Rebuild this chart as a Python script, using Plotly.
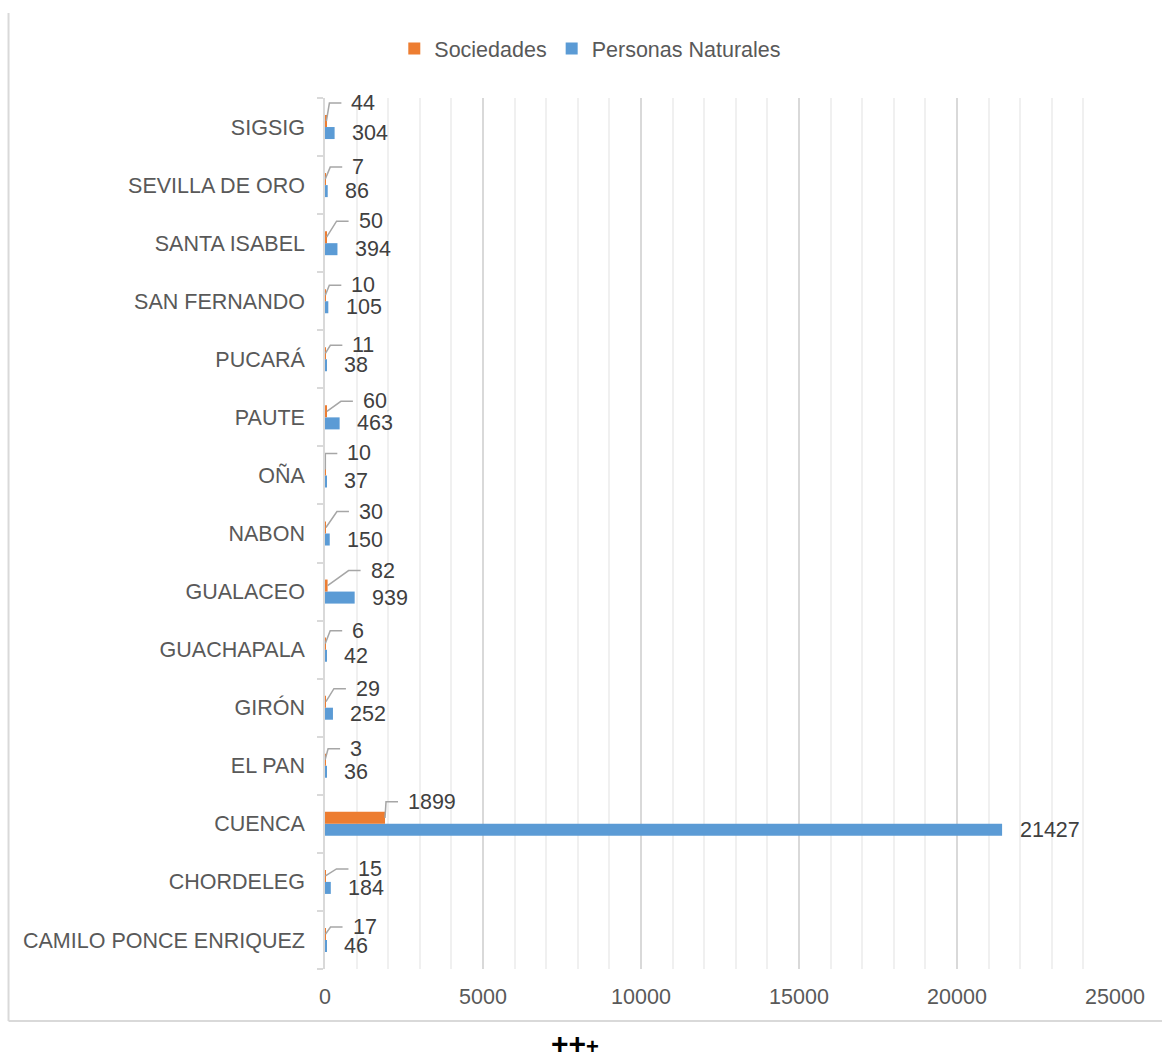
import plotly.graph_objects as go

# Cantones (bottom to top on the axis)
cantones = [
    "CAMILO PONCE ENRIQUEZ", "CHORDELEG", "CUENCA", "EL PAN", "GIRÓN",
    "GUACHAPALA", "GUALACEO", "NABON", "OÑA", "PAUTE", "PUCARÁ",
    "SAN FERNANDO", "SANTA ISABEL", "SEVILLA DE ORO", "SIGSIG",
]
sociedades = [17, 15, 1899, 3, 29, 6, 82, 30, 10, 60, 11, 10, 50, 7, 44]
personas_naturales = [46, 184, 21427, 36, 252, 42, 939, 150, 37, 463, 38, 105, 394, 86, 304]
x_ticks = [0, 5000, 10000, 15000, 20000, 25000]

# Pixel nudges (dx, dy) for the callout labels of the "Sociedades" series
soc_label_nudge = [
    (25, -7), (31, -7), (21, -16), (23, -11), (28, -13), (25, -13), (41, -15),
    (31, -16), (20, -16), (34, -10), (25, -8), (24, -10), (30, -16), (25, -12),
    (23, -18),
]

FONT = "Liberation Sans, Arial, sans-serif"
FS = 21.5
ORANGE = "#ED7D31"
BLUE = "#5B9BD5"
GRID_MAJOR = "#D9D9D9"
GRID_MINOR = "#F0F0F0"
LEADER = "#A6A6A6"
TXT = "#404040"
LBL = "#595959"

fig = go.Figure()
fig.add_trace(go.Bar(
    y=cantones, x=personas_naturales, orientation="h", name="Personas Naturales",
    marker=dict(color=BLUE, line=dict(width=0)), hoverinfo="x+y",
))
fig.add_trace(go.Bar(
    y=cantones, x=sociedades, orientation="h", name="Sociedades",
    marker=dict(color=ORANGE, line=dict(width=0)), hoverinfo="x+y",
))

annotations = []
shapes = []

# Value labels for "Personas Naturales", just right of each bar
for cat, v in zip(cantones, personas_naturales):
    annotations.append(dict(
        x=v, y=cat, xref="x", yref="y", text=str(v), showarrow=False,
        xanchor="left", yanchor="middle", xshift=15.5, yshift=-6,
        font=dict(family=FONT, size=FS, color=TXT),
    ))

# Callout labels with leader lines for "Sociedades"
for cat, v, (dx, dy) in zip(cantones, sociedades, soc_label_nudge):
    annotations.append(dict(
        x=v, y=cat, xref="x", yref="y", text=str(v), showarrow=False,
        xanchor="left", yanchor="middle", xshift=dx, yshift=6 - dy,
        font=dict(family=FONT, size=FS, color=TXT),
    ))
    corner = max(dx - 20, 0)
    end = dx - 8
    ly = 6 - dy
    shapes.append(dict(
        type="path", xref="x", yref="y", xsizemode="pixel", ysizemode="pixel",
        xanchor=v, yanchor=cat,
        path=f"M0,6 L{corner},{ly} L{end},{ly}",
        line=dict(color=LEADER, width=1.5),
    ))

# Chart frame (left and bottom edges)
shapes.append(dict(type="line", xref="paper", yref="paper",
                   x0=-0.4006, x1=-0.4006, y0=-0.0597, y1=1.0976,
                   line=dict(color=GRID_MAJOR, width=2)))
shapes.append(dict(type="line", xref="paper", yref="paper",
                   x0=-0.4006, x1=1.08, y0=-0.0597, y1=-0.0597,
                   line=dict(color=GRID_MAJOR, width=2)))

annotations.append(dict(
    xref="paper", yref="paper", x=0.3165, y=-0.085, showarrow=False,
    text="<b>++</b><span style='font-size:22px'><b>+</b></span>",
    xanchor="center", yanchor="middle",
    font=dict(family=FONT, size=30, color="#000000"),
))

fig.update_layout(
    width=1162, height=1053,
    margin=dict(l=325, r=47, t=98, b=84),
    paper_bgcolor="white", plot_bgcolor="white",
    barmode="group", bargap=0.586, bargroupgap=0,
    font=dict(family=FONT, size=FS, color=LBL),
    showlegend=True,
    legend=dict(
        orientation="h", traceorder="reversed",
        xref="container", yref="container",
        x=0.508, xanchor="center", y=1 - 28 / 1053, yanchor="top",
        font=dict(family=FONT, size=FS, color=LBL),
        itemwidth=30,
    ),
    xaxis=dict(
        range=[0, 25000], tickvals=x_ticks, ticktext=[str(t) for t in x_ticks],
        showgrid=True, gridcolor=GRID_MAJOR, gridwidth=1.5,
        minor=dict(dtick=1000, showgrid=True, gridcolor=GRID_MINOR, gridwidth=1.5),
        zeroline=False, showline=False, ticks="",
        ticklabelstandoff=12,
        tickfont=dict(family=FONT, size=FS, color=LBL),
        fixedrange=True,
    ),
    yaxis=dict(
        type="category", categoryorder="array", categoryarray=cantones,
        range=[-0.5, len(cantones) - 0.5],
        showgrid=False, zeroline=False,
        showline=True, linecolor=GRID_MAJOR, linewidth=1.5,
        ticks="outside", tickson="boundaries", ticklen=6, tickcolor=GRID_MAJOR,
        tickwidth=1.5, ticklabelstandoff=14,
        tickfont=dict(family=FONT, size=FS, color=LBL),
        fixedrange=True,
    ),
    annotations=annotations,
    shapes=shapes,
)

fig.write_html("out.html", config={"displayModeBar": False})
